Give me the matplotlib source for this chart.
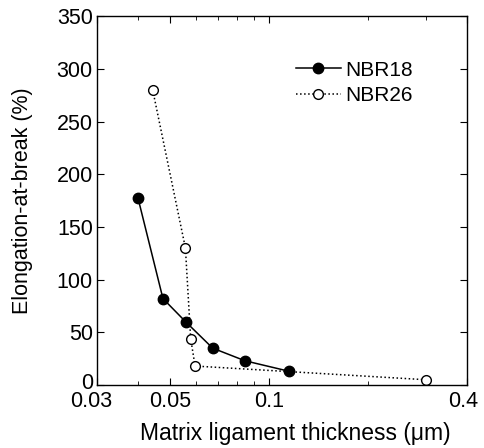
import matplotlib
matplotlib.use('Agg')
import matplotlib.pyplot as plt
import matplotlib.transforms as mtransforms
from matplotlib.ticker import FixedLocator, NullFormatter

plt.rcParams['font.family'] = ['Liberation Sans', 'DejaVu Sans']

# data
nbr18_x = [0.0400, 0.0476, 0.0558, 0.0674, 0.0845, 0.1152]
nbr18_y = [177, 82, 60, 35, 23, 13]
nbr26_x = [0.0443, 0.0557, 0.0578, 0.0596, 0.300]
nbr26_y = [280, 130, 44, 18, 5]

x_major = [0.03, 0.05, 0.1, 0.4]
x_major_labels = ['0.03', '0.05', '0.1', '0.4']
x_minor = [0.04, 0.06, 0.07, 0.08, 0.09, 0.2, 0.3]

fig = plt.figure(figsize=(4.85, 4.48), dpi=100)
ax = fig.add_axes([0.2, 0.1406, 0.763, 0.8234])

ax.plot(nbr18_x, nbr18_y, '-', color='black', lw=1.1, marker='o',
        ms=7.5, mfc='black', mec='black', label='NBR18')
ax.plot(nbr26_x, nbr26_y, ':', color='black', lw=1.1, marker='o',
        ms=7, mfc='white', mec='black', mew=1.0, label='NBR26')

ax.set_xscale('log')
ax.set_xlim(0.03, 0.4)
ax.set_ylim(0, 350)
ax.xaxis.set_major_locator(FixedLocator(x_major))
ax.set_xticklabels(x_major_labels)
ax.xaxis.set_minor_locator(FixedLocator(x_minor))
ax.xaxis.set_minor_formatter(NullFormatter())
ax.set_yticks(range(0, 351, 50))

ax.tick_params(which='both', direction='in', top=True, right=True,
               labelsize=15.5)
ax.tick_params(axis='x', pad=4)
ax.tick_params(axis='y', pad=3)
ax.tick_params(which='major', length=5)
ax.tick_params(which='minor', length=3)
for s in ax.spines.values():
    s.set_linewidth(1.0)

# nudge the crowded corner labels like the original
def nudge(label, dx, dy):
    off = mtransforms.ScaledTranslation(dx / 72, dy / 72, fig.dpi_scale_trans)
    label.set_transform(label.get_transform() + off)

xl = ax.get_xticklabels()
nudge(xl[0], -4.5, 0)
nudge(xl[-1], -3, 0)
nudge(ax.get_yticklabels()[0], 0, 3)

ax.set_xlabel('Matrix ligament thickness (\u03bcm)', fontsize=16.5)
ax.xaxis.set_label_coords(0.535, -0.1)
ax.set_ylabel('Elongation-at-break (%)', fontsize=15.5)
ax.yaxis.set_label_coords(-0.173, 0.5)

ax.legend(loc='upper left', bbox_to_anchor=(0.487, 0.93), frameon=False,
          fontsize=15, handlelength=2.15, handletextpad=0.2, labelspacing=0.3)

fig.savefig('out.png', dpi=100)
